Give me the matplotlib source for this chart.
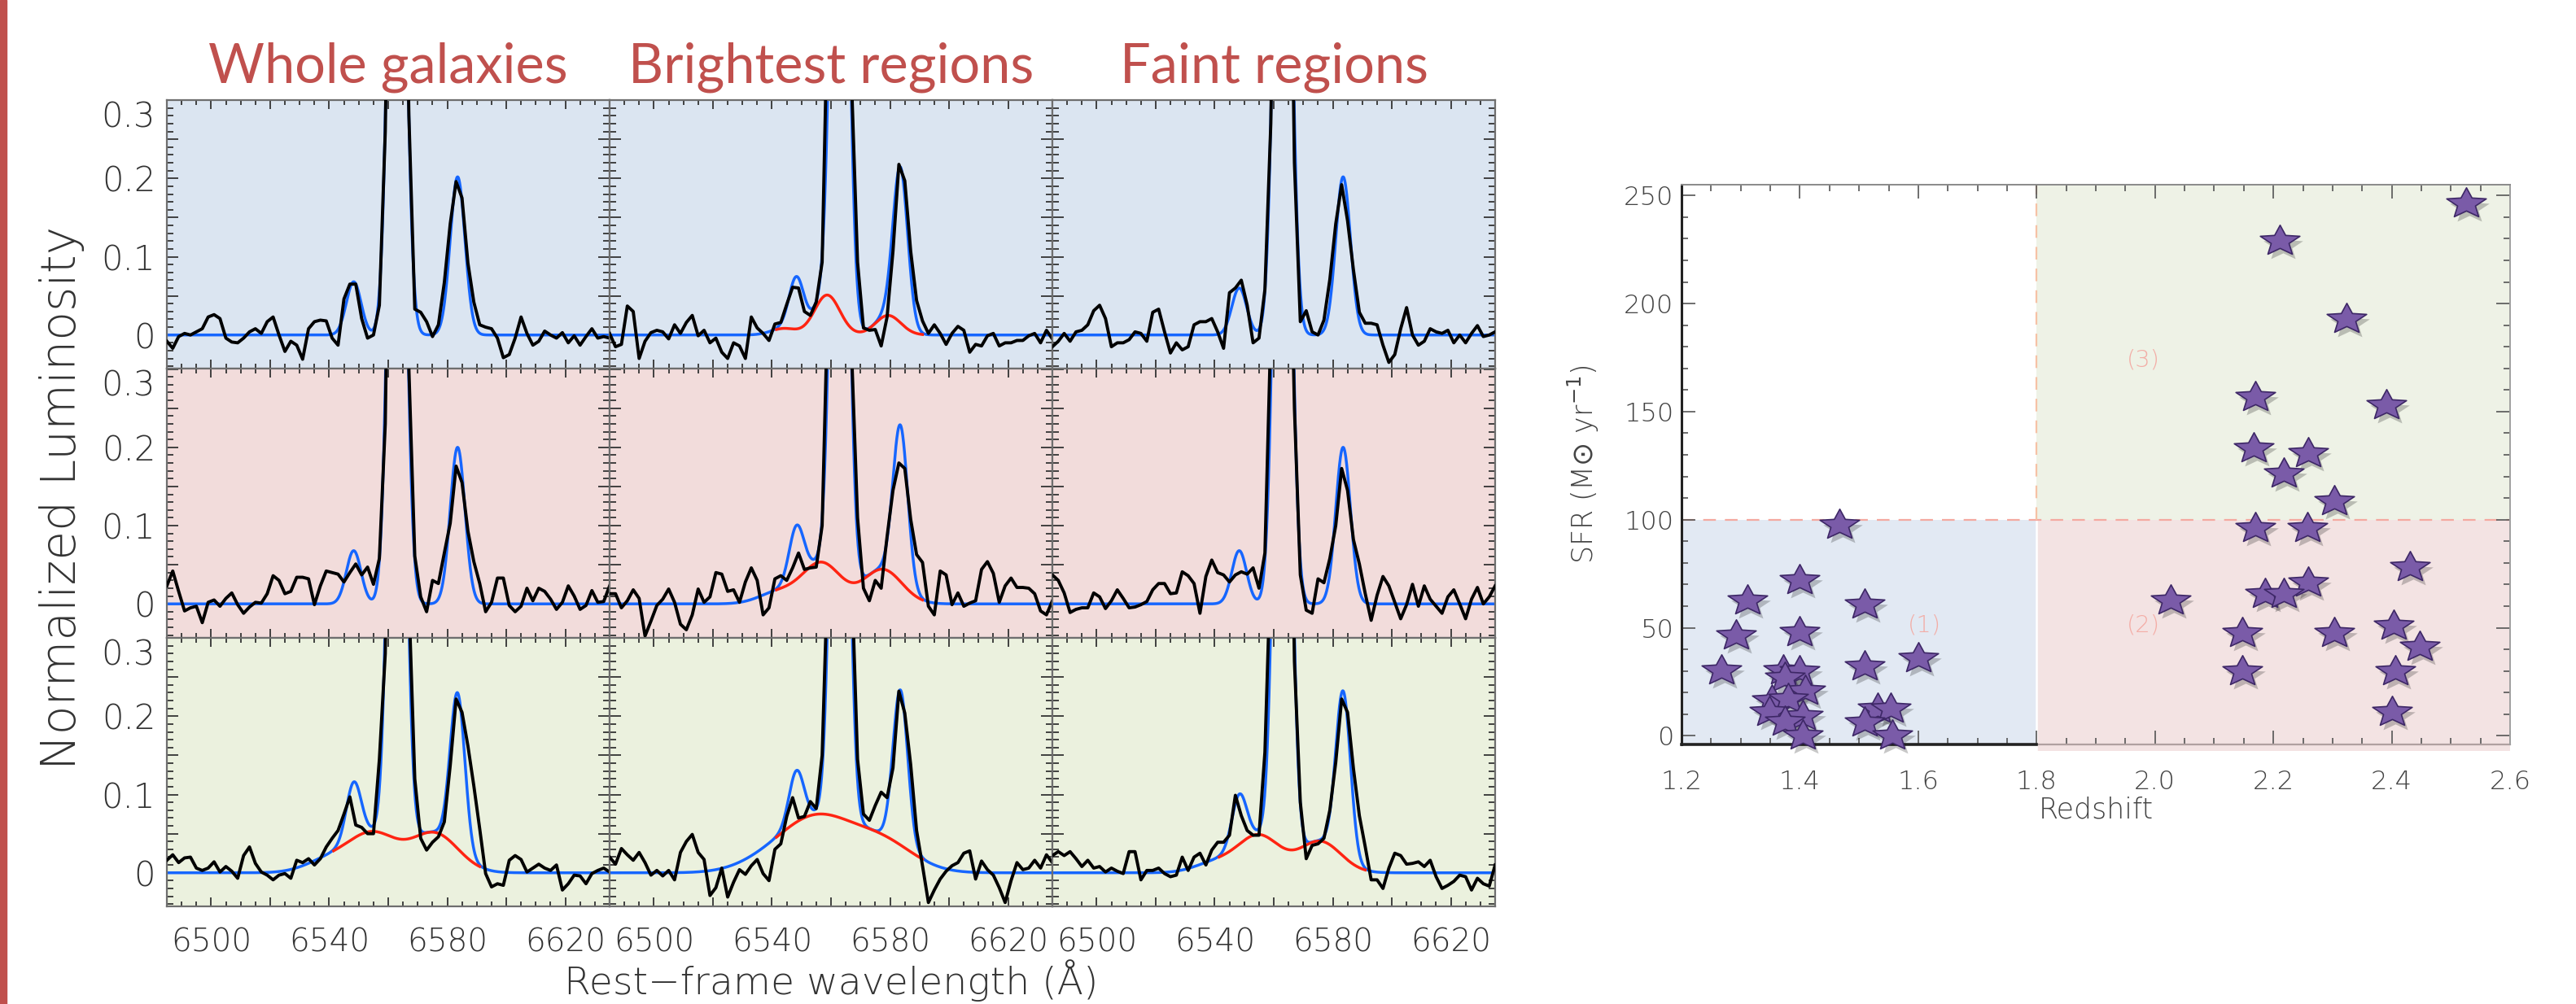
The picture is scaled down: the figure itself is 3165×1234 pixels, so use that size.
import numpy as np
import matplotlib
matplotlib.use("Agg")
import matplotlib.pyplot as plt
from matplotlib.ticker import MultipleLocator, FormatStrFormatter
from matplotlib.path import Path
from matplotlib.patches import Rectangle
from matplotlib import transforms

# ---------------------------------------------------------------- data: spectra
COLUMN_TITLES = ["Whole galaxies", "Brightest regions", "Faint regions"]
Y_LABEL = "Normalized Luminosity"
X_LABEL = "Rest\u2212frame wavelength (\u00c5)"

WAVE_START, WAVE_STEP, WAVE_STOP = 6485, 2, 6635
WAVE = np.arange(WAVE_START, WAVE_STOP + 1, WAVE_STEP)

XTICKS = [6500, 6520, 6540, 6560, 6580, 6600, 6620]
XTICK_LABELS = ["6500", "", "6540", "", "6580", "", "6620"]
YTICKS = [0.0, 0.05, 0.1, 0.15, 0.2, 0.25, 0.3]
YTICK_LABELS = ["0", "", "0.1", "", "0.2", "", "0.3"]

SPEC_R1C1 = [-0.008, -0.017, -0.002, 0.002, 0.000, 0.004, 0.008, 0.023, 0.026, 0.021,
             -0.004, -0.009, -0.010, -0.004, 0.004, 0.008, 0.002, 0.017, 0.023, 0.000,
             -0.021, -0.008, -0.013, -0.031, 0.008, 0.017, 0.019, 0.018, -0.004, -0.013,
             0.046, 0.065, 0.065, 0.021, -0.004, 0.000, 0.038, 0.26, 0.75, 1.00,
             0.75, 0.28, 0.033, 0.029, 0.017, -0.002, 0.013, 0.067, 0.142, 0.196,
             0.175, 0.092, 0.042, 0.013, 0.010, 0.008, -0.004, -0.029, -0.025, -0.004,
             0.023, 0.002, -0.013, -0.008, 0.005, 0.000, -0.004, 0.003, -0.010, -0.001,
             -0.013, -0.002, 0.008, -0.004, -0.002, -0.004]
SPEC_R1C2 = [0.002, -0.015, -0.012, 0.037, 0.030, -0.030, -0.008, 0.003, 0.006, 0.004,
             -0.005, 0.013, 0.002, 0.016, 0.025, -0.001, 0.006, -0.010, -0.004, -0.022,
             -0.030, -0.010, -0.014, -0.030, 0.023, 0.009, 0.002, -0.007, 0.014, 0.016,
             0.039, 0.061, 0.060, 0.030, 0.025, 0.042, 0.093, 0.45, 0.85, 1.00,
             0.80, 0.32, 0.093, 0.009, 0.006, 0.007, -0.014, 0.023, 0.107, 0.218,
             0.197, 0.107, 0.044, 0.018, 0.002, 0.013, 0.002, -0.012, 0.002, 0.011,
             0.006, -0.022, -0.012, -0.014, -0.001, 0.002, -0.014, -0.010, -0.010, -0.007,
             -0.007, -0.001, 0.002, -0.010, 0.006, -0.005]
SPEC_R1C3 = [-0.015, -0.008, 0.002, -0.008, 0.004, 0.006, 0.013, 0.031, 0.038, 0.021,
             -0.015, -0.010, -0.010, -0.006, 0.004, 0.002, -0.008, 0.029, 0.033, 0.004,
             -0.023, -0.010, -0.019, -0.015, 0.013, 0.017, 0.017, 0.021, 0.004, -0.017,
             0.054, 0.060, 0.070, 0.038, -0.010, -0.004, 0.058, 0.27, 0.75, 1.00,
             0.75, 0.22, 0.017, 0.031, 0.004, 0.000, 0.019, 0.071, 0.142, 0.192,
             0.146, 0.083, 0.029, 0.015, 0.015, 0.013, -0.013, -0.035, -0.025, 0.008,
             0.035, 0.000, -0.013, -0.008, 0.008, 0.004, 0.002, 0.006, -0.010, 0.000,
             -0.010, 0.002, 0.012, -0.002, 0.000, 0.004]
SPEC_R2C1 = [0.023, 0.042, 0.016, -0.009, -0.005, -0.003, -0.024, 0.002, 0.005, -0.003,
             0.007, 0.014, -0.001, -0.012, -0.004, 0.002, 0.001, 0.013, 0.036, 0.030,
             0.013, 0.016, 0.034, 0.034, 0.032, -0.001, 0.023, 0.042, 0.040, 0.038,
             0.028, 0.040, 0.051, 0.037, 0.047, 0.025, 0.058, 0.23, 0.75, 1.00,
             0.75, 0.30, 0.061, 0.009, -0.010, 0.030, 0.026, 0.065, 0.103, 0.176,
             0.155, 0.093, 0.054, 0.026, -0.010, 0.002, 0.033, 0.033, -0.002, -0.010,
             -0.003, 0.020, 0.004, 0.020, 0.016, 0.006, -0.007, 0.002, 0.023, 0.010,
             -0.007, -0.002, 0.017, 0.002, 0.003, 0.023]
SPEC_R2C2 = [0.013, 0.013, -0.005, 0.004, 0.018, 0.007, -0.041, -0.022, -0.002, 0.006,
             0.019, 0.002, -0.026, -0.033, -0.014, 0.019, 0.002, 0.009, 0.040, 0.038,
             0.016, 0.018, 0.002, 0.028, 0.046, 0.030, -0.014, -0.005, 0.032, 0.036,
             0.030, 0.046, 0.065, 0.044, 0.046, 0.047, 0.100, 0.40, 0.80, 1.00,
             0.75, 0.32, 0.110, 0.020, 0.004, 0.030, 0.020, 0.086, 0.145, 0.180,
             0.173, 0.108, 0.063, 0.053, -0.003, -0.014, 0.042, 0.037, -0.001, 0.014,
             -0.003, 0.001, 0.004, 0.044, 0.054, 0.039, 0.002, 0.023, 0.033, 0.021,
             0.021, 0.020, 0.013, -0.009, -0.014, 0.004]
SPEC_R2C3 = [0.037, 0.030, 0.014, -0.011, -0.007, -0.005, -0.005, 0.014, 0.009, -0.006,
             0.004, 0.018, 0.007, -0.005, -0.004, -0.001, 0.003, 0.018, 0.026, 0.026,
             0.013, 0.014, 0.041, 0.036, 0.026, -0.012, 0.035, 0.056, 0.040, 0.037,
             0.028, 0.037, 0.041, 0.038, 0.046, 0.020, 0.065, 0.35, 0.75, 1.00,
             0.60, 0.25, 0.037, -0.008, -0.012, 0.032, 0.027, 0.058, 0.100, 0.173,
             0.145, 0.082, 0.051, 0.013, -0.021, 0.011, 0.035, 0.023, 0.002, -0.019,
             -0.001, 0.025, -0.003, 0.023, 0.006, -0.003, -0.012, 0.009, 0.018, 0.000,
             -0.019, 0.006, 0.021, 0.000, 0.009, 0.023]
SPEC_R3C1 = [0.016, 0.023, 0.013, 0.019, 0.020, 0.006, 0.003, 0.006, 0.014, 0.001,
             0.008, 0.002, -0.007, 0.022, 0.033, 0.012, 0.001, -0.003, -0.009, -0.003,
             -0.001, -0.007, 0.016, 0.013, 0.018, 0.010, 0.018, 0.033, 0.044, 0.054,
             0.075, 0.097, 0.061, 0.058, 0.050, 0.050, 0.145, 0.28, 0.80, 1.00,
             0.75, 0.35, 0.120, 0.044, 0.029, 0.039, 0.046, 0.065, 0.137, 0.222,
             0.205, 0.162, 0.111, 0.056, -0.001, -0.018, -0.014, -0.016, 0.016, 0.022,
             0.017, 0.001, 0.006, 0.011, 0.006, 0.003, 0.010, -0.022, -0.014, -0.003,
             -0.004, -0.014, -0.001, 0.003, 0.006, 0.001]
SPEC_R3C2 = [0.020, 0.011, 0.031, 0.023, 0.016, 0.026, 0.013, -0.003, 0.003, -0.004,
             0.003, -0.009, 0.026, 0.040, 0.049, 0.026, 0.017, -0.029, -0.019, 0.006,
             -0.031, -0.012, 0.004, -0.002, 0.009, 0.017, -0.001, -0.010, 0.030, 0.037,
             0.072, 0.096, 0.070, 0.072, 0.091, 0.082, 0.150, 0.40, 0.85, 1.00,
             0.90, 0.38, 0.145, 0.075, 0.067, 0.086, 0.103, 0.096, 0.134, 0.232,
             0.204, 0.138, 0.054, 0.009, -0.038, -0.022, -0.008, 0.002, 0.009, 0.013,
             0.025, 0.028, -0.008, 0.015, 0.004, -0.003, -0.019, -0.038, -0.010, 0.013,
             0.004, 0.006, 0.016, 0.006, 0.023, 0.013]
SPEC_R3C3 = [0.022, 0.027, 0.022, 0.027, 0.018, 0.008, 0.016, 0.006, 0.008, 0.001,
             0.006, 0.002, -0.001, 0.027, 0.027, -0.009, 0.003, 0.003, 0.006, -0.001,
             -0.005, -0.003, 0.020, 0.003, 0.020, 0.025, 0.010, 0.029, 0.039, 0.039,
             0.048, 0.099, 0.073, 0.054, 0.048, 0.048, 0.154, 0.40, 0.80, 1.00,
             0.75, 0.27, 0.090, 0.018, 0.035, 0.037, 0.044, 0.080, 0.141, 0.222,
             0.205, 0.133, 0.073, 0.033, -0.009, -0.009, -0.020, 0.006, 0.025, 0.022,
             0.011, 0.012, 0.014, 0.008, 0.016, -0.005, -0.020, -0.016, -0.011, -0.003,
             -0.005, -0.022, -0.007, -0.014, -0.017, 0.010]
SPECTRA = [SPEC_R1C1, SPEC_R1C2, SPEC_R1C3,
           SPEC_R2C1, SPEC_R2C2, SPEC_R2C3,
           SPEC_R3C1, SPEC_R3C2, SPEC_R3C3]

# fitted model components (row-major order)
NARROW_CEN = [6548.3, 6563.0, 6583.5]        # [NII]6548, Halpha, [NII]6583
NARROW_SIGMA = 2.5
HA_AMP = [1.0, 1.0, 1.0, 1.0, 1.0, 1.0, 1.0, 1.0, 1.0]
N2A_AMP = [0.068, 0.067, 0.060, 0.068, 0.069, 0.068, 0.072, 0.066, 0.064]
N2B_AMP = [0.202, 0.199, 0.202, 0.200, 0.200, 0.200, 0.199, 0.198, 0.211]
BROAD_HA_AMP = [0, 0.051, 0, 0, 0.052, 0, 0.048, 0.060, 0.047]
BROAD_N2B_AMP = [0, 0.025, 0, 0, 0.044, 0, 0.050, 0.040, 0.040]
BROAD_N2A_AMP = [0, 0.0083, 0, 0, 0.0147, 0, 0.0167, 0.020, 0.013]
BROAD_CEN = [6558.7, 6558.7, 6558.7, 6558.7, 6556.8, 6558.7, 6555.0, 6556.0, 6555.0]
BROAD_SIGMA = [4.3, 4.3, 4.3, 4.3, 6.5, 4.3, 8.0, 11.0, 7.0]
N2B_OFFSET, N2A_OFFSET = 20.65, -14.7
RED_WINDOW = (6541.5, 6591.0)

# ---------------------------------------------------------------- data: scatter
REDSHIFT = [1.467, 1.400, 1.311, 1.509, 1.292, 1.400, 1.600, 1.267, 1.509, 1.372,
            1.400, 1.375, 1.409, 1.353, 1.380, 1.348, 1.405, 1.375, 1.531, 1.553,
            1.509, 1.405, 1.556,
            2.526, 2.211, 2.324, 2.169, 2.391, 2.167, 2.259, 2.217, 2.303,
            2.170, 2.258, 2.431, 2.259, 2.186, 2.217, 2.026, 2.148, 2.303,
            2.403, 2.448, 2.148, 2.406, 2.400]
SFR = [97.7, 72.0, 62.5, 60.6, 46.5, 48.0, 36.0, 30.4, 32.0, 30.4,
       30.0, 27.0, 20.8, 16.3, 17.0, 11.0, 9.0, 6.7, 12.5, 12.5,
       6.0, 0.0, 0.0,
       246.5, 229.0, 192.7, 156.7, 152.9, 133.0, 130.8, 121.5, 108.7,
       96.0, 96.0, 78.0, 70.8, 65.8, 65.8, 62.5, 47.7, 47.7,
       51.0, 41.3, 29.8, 29.8, 11.0]
Z_SPLIT, SFR_SPLIT = 1.8, 100
REGION_LABELS = ["(1)", "(2)", "(3)"]
REGION_LABEL_X = [1.61, 1.98, 1.98]
REGION_LABEL_Y = [51, 51, 174]

# ---------------------------------------------------------------- style
W, H = 3165, 1234
ROW_BG = ["#DBE5F1", "#F2DCDB", "#EBF1DE"]
BLUE, RED = "#1666FF", "#FF2412"
TITLE_RED = "#C0504D"
IDL = dict(family="DejaVu Sans", weight=250)


def fx(px):
    return px / W


def fy(py):
    return 1 - py / H


def gauss(x, amp, cen, sig):
    return amp * np.exp(-0.5 * ((x - cen) / sig) ** 2)


fig = plt.figure(figsize=(W / 100, H / 100), dpi=100)
fig.patch.set_facecolor("white")

# slide accent bar
fig.patches.append(Rectangle((0, 0), fx(8), 1, transform=fig.transFigure,
                             color=TITLE_RED, zorder=0))

GRID_L, GRID_T, CELL_W, CELL_H = 205, 122.6, 544, 330.5
LAM_FINE = np.linspace(WAVE_START, WAVE_STOP, 1501)

for r in range(3):
    for c in range(3):
        i = 3 * r + c
        left = GRID_L + CELL_W * c
        top = GRID_T + CELL_H * r
        ax = fig.add_axes([fx(left), fy(top + CELL_H), CELL_W / W, CELL_H / H])
        ax.set_facecolor(ROW_BG[r])
        ax.set_xlim(WAVE_START, WAVE_STOP)
        ax.set_ylim(-0.043, 0.3005)

        narrow = (gauss(LAM_FINE, N2A_AMP[i], NARROW_CEN[0], NARROW_SIGMA)
                  + gauss(LAM_FINE, HA_AMP[i], NARROW_CEN[1], NARROW_SIGMA)
                  + gauss(LAM_FINE, N2B_AMP[i], NARROW_CEN[2], NARROW_SIGMA))
        broad = (gauss(LAM_FINE, BROAD_HA_AMP[i], BROAD_CEN[i], BROAD_SIGMA[i])
                 + gauss(LAM_FINE, BROAD_N2B_AMP[i], BROAD_CEN[i] + N2B_OFFSET, BROAD_SIGMA[i])
                 + gauss(LAM_FINE, BROAD_N2A_AMP[i], BROAD_CEN[i] + N2A_OFFSET, BROAD_SIGMA[i]))
        ax.plot(LAM_FINE, narrow + broad, color=BLUE, lw=2.5, zorder=2)
        if BROAD_HA_AMP[i] > 0:
            m = (LAM_FINE >= RED_WINDOW[0]) & (LAM_FINE <= RED_WINDOW[1])
            ax.plot(LAM_FINE[m], broad[m], color=RED, lw=2.5, zorder=3)
        ax.plot(WAVE, SPECTRA[i], color="black", lw=2.8, zorder=4,
                solid_joinstyle="round")

        for s in ax.spines.values():
            s.set_color("#6e6e6e")
            s.set_linewidth(1.6)
        xt = ax.set_xticks(XTICKS, labels=XTICK_LABELS if r == 2 else [""] * len(XTICKS))
        yt = ax.set_yticks(YTICKS, labels=YTICK_LABELS if c == 0 else [""] * len(YTICKS))
        ax.xaxis.set_minor_locator(MultipleLocator(5))
        ax.yaxis.set_minor_locator(MultipleLocator(0.01))
        ax.tick_params(which="both", direction="in", top=True, right=True,
                       color="#333333", width=1.3)
        ax.tick_params(axis="x", which="major", length=8, pad=18,
                       labelsize=28, labelcolor="#333333")
        ax.tick_params(axis="x", which="minor", length=4)
        ax.tick_params(axis="y", which="major", length=10, pad=10,
                       labelsize=30, labelcolor="#333333")
        ax.tick_params(axis="y", which="minor", length=6)
        for lab in ax.get_xticklabels() + ax.get_yticklabels():
            lab.set_family(IDL["family"])
            lab.set_weight(IDL["weight"])
        if c == 0:
            yt[-1].label1.set_verticalalignment("top")

# column titles
for c, title in enumerate(COLUMN_TITLES):
    fig.text(fx(GRID_L + CELL_W * (c + 0.5)), fy(101), title, ha="center",
             va="baseline", fontsize=48, color=TITLE_RED, family="Lato")

fig.text(fx(77), fy(612), Y_LABEL, rotation=90, ha="center", va="center",
         fontsize=42, color="#333333", **IDL)
fig.text(fx(GRID_L + 1.5 * CELL_W), fy(1222), X_LABEL, ha="center",
         va="baseline", fontsize=34, color="#333333", **IDL)

# ---------------------------------------------------------------- scatter panel
SX0, SX1, SY0, SY1 = 2066, 3084, 227, 915
axs = fig.add_axes([fx(SX0), fy(SY1), (SX1 - SX0) / W, (SY1 - SY0) / H])
axs.set_xlim(1.2, 2.6)
axs.set_ylim(-4, 255)
axs.set_facecolor("white")

axs.add_patch(Rectangle((1.2, -4), Z_SPLIT - 1.2, SFR_SPLIT + 4,
                        facecolor="#E2E9F3", edgecolor="none", zorder=0))
axs.add_patch(Rectangle((Z_SPLIT, -7), 2.6 - Z_SPLIT, SFR_SPLIT + 7,
                        facecolor="#F3E3E3", edgecolor="none", zorder=0,
                        clip_on=False))
axs.add_patch(Rectangle((Z_SPLIT, SFR_SPLIT), 2.6 - Z_SPLIT, 255 - SFR_SPLIT,
                        facecolor="#EEF2E6", edgecolor="none", zorder=0))
axs.plot([Z_SPLIT, Z_SPLIT], [-7, SFR_SPLIT], color="white", lw=1.8, zorder=1,
         clip_on=False)
axs.plot([1.2, 2.6], [SFR_SPLIT, SFR_SPLIT], color="#F4A9A0", lw=1.6,
         dashes=(7, 5), zorder=1)
axs.plot([Z_SPLIT, Z_SPLIT], [SFR_SPLIT, 255], color="#F6C2A6", lw=1.6,
         dashes=(7, 5), zorder=1)

for lab, x, y in zip(REGION_LABELS, REGION_LABEL_X, REGION_LABEL_Y):
    axs.text(x, y, lab, ha="center", va="center", fontsize=21,
             color="#F3ADA6", zorder=1, **IDL)

base = Path.unit_regular_star(5, 0.45)
STAR = Path(base.vertices * np.array([1.3, 1.0]), base.codes)
shadow = transforms.offset_copy(axs.transData, fig=fig, x=4, y=-6, units="dots")
axs.plot(REDSHIFT, SFR, ls="none", marker=STAR, ms=35, mfc="black", mec="none",
         alpha=0.22, transform=shadow, clip_on=False, zorder=3)
axs.plot(REDSHIFT, SFR, ls="none", marker=STAR, ms=35, mfc="#7A5BA8",
         mec="#3D2766", mew=1.2, clip_on=False, zorder=4)

axs.spines["left"].set_color("#222222")
axs.spines["left"].set_linewidth(2.2)
axs.spines["bottom"].set_color("#222222")
axs.spines["bottom"].set_linewidth(2.6)
axs.spines["bottom"].set_bounds(1.2, Z_SPLIT)
axs.spines["top"].set_color("#8a8a8a")
axs.spines["top"].set_linewidth(1.4)
axs.spines["right"].set_color("#a0a0a0")
axs.spines["right"].set_linewidth(1.4)
axs.plot([Z_SPLIT, 2.6], [-4, -4], color="#b0a0a0", lw=1.6, clip_on=False, zorder=2)

axs.xaxis.set_major_locator(MultipleLocator(0.2))
axs.xaxis.set_minor_locator(MultipleLocator(0.05))
axs.yaxis.set_major_locator(MultipleLocator(50))
axs.yaxis.set_minor_locator(MultipleLocator(10))
axs.xaxis.set_major_formatter(FormatStrFormatter("%.1f"))
axs.yaxis.set_major_formatter(FormatStrFormatter("%d"))
axs.tick_params(which="both", direction="in", top=True, right=True,
                color="#555555", width=1.2)
axs.tick_params(which="major", length=12)
axs.tick_params(which="minor", length=6)
axs.tick_params(axis="x", which="major", pad=22, labelsize=23, labelcolor="#444444")
axs.tick_params(axis="y", which="major", pad=7, labelsize=23, labelcolor="#444444")
for lab in axs.get_xticklabels() + axs.get_yticklabels():
    lab.set_family(IDL["family"])
    lab.set_weight(IDL["weight"])

fig.text(fx(1945), fy(571), "SFR (M$\\odot$ yr$^{-1}$)", rotation=90, ha="center",
         va="center", fontsize=25, color="#444444", **IDL)
fig.text(fx((SX0 + SX1) / 2), fy(995), "Redshift", ha="center", va="center",
         fontsize=25, color="#444444", **IDL)

fig.savefig("out.png", dpi=100, facecolor="white")
